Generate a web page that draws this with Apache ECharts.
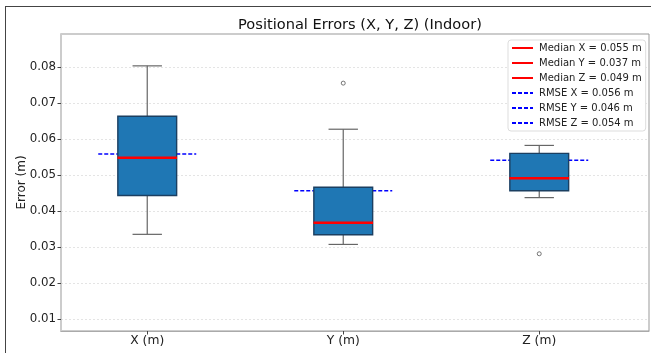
<!DOCTYPE html>
<html>
<head>
<meta charset="utf-8">
<script src="https://cdn.jsdelivr.net/npm/echarts@6/dist/echarts.min.js"></script>
<style>
  html, body { margin: 0; padding: 0; background: #fff; }
  #chart { position: absolute; left: 0; top: 0; width: 651px; height: 353px; }
  #frame { position: absolute; left: 5px; top: 6px; width: 660px; height: 360px;
           border-top: 1.5px solid #444; border-left: 1.5px solid #444; pointer-events: none; }
</style>
</head>
<body>
<div id="chart"></div>
<div id="frame"></div>
<script>
// ---- data ----
const categories = ['X (m)', 'Y (m)', 'Z (m)'];
const positions  = [1, 2, 3];
const whiskerLow = [0.0336, 0.0308, 0.0438];
const q1         = [0.0444, 0.0335, 0.0457];
const medians    = [0.0549, 0.0368, 0.0492];
const q3         = [0.0664, 0.0467, 0.0561];
const whiskerHigh= [0.0804, 0.0628, 0.0583];
const rmse       = [0.0559, 0.0457, 0.0542];
const outliers   = [[2, 0.0756], [3, 0.0282]];
const medianLabels = ['Median X = 0.055 m', 'Median Y = 0.037 m', 'Median Z = 0.049 m'];
const rmseLabels   = ['RMSE X = 0.056 m', 'RMSE Y = 0.046 m', 'RMSE Z = 0.054 m'];
const yTicks = [0.01, 0.02, 0.03, 0.04, 0.05, 0.06, 0.07, 0.08];

// ---- style constants ----
const BOX_HALF = 0.15, CAP_HALF = 0.075, RMSE_HALF = 0.25, MED_HALF = 0.152;
const FONT = 'DejaVu Sans';

const boxData = positions.map((p, i) => [p, whiskerLow[i], q1[i], medians[i], q3[i], whiskerHigh[i]]);

const series = [];
// RMSE lines (behind boxes)
rmse.forEach((v, i) => {
  series.push({
    name: rmseLabels[i], type: 'line', symbol: 'none', z: 1,
    data: [[positions[i] - RMSE_HALF, v], [positions[i] + RMSE_HALF, v]],
    lineStyle: { color: '#0000ff', width: 1.4, type: [4, 2] },
    itemStyle: { color: '#0000ff' }, silent: true
  });
});
// boxes
series.push({
  type: 'custom', z: 2, silent: true,
  data: boxData,
  encode: { x: 0, y: [1, 2, 3, 4, 5] },
  renderItem: function (params, api) {
    const x = api.value(0);
    const lo = api.coord([x, api.value(1)]);
    const b1 = api.coord([x - BOX_HALF, api.value(2)]);
    const b3 = api.coord([x + BOX_HALF, api.value(4)]);
    const hi = api.coord([x, api.value(5)]);
    const capL = api.coord([x - CAP_HALF, api.value(1)]);
    const capR = api.coord([x + CAP_HALF, api.value(1)]);
    const capL2 = api.coord([x - CAP_HALF, api.value(5)]);
    const capR2 = api.coord([x + CAP_HALF, api.value(5)]);
    const wStyle = { stroke: '#666', lineWidth: 1.2 };
    return {
      type: 'group',
      children: [
        { type: 'line', shape: { x1: lo[0], y1: lo[1], x2: lo[0], y2: b1[1] }, style: wStyle },
        { type: 'line', shape: { x1: hi[0], y1: hi[1], x2: hi[0], y2: b3[1] }, style: wStyle },
        { type: 'line', shape: { x1: capL[0], y1: capL[1], x2: capR[0], y2: capR[1] }, style: wStyle },
        { type: 'line', shape: { x1: capL2[0], y1: capL2[1], x2: capR2[0], y2: capR2[1] }, style: wStyle },
        { type: 'rect', shape: { x: b1[0], y: b3[1], width: b3[0] - b1[0], height: b1[1] - b3[1] },
          style: { fill: '#1f77b4', stroke: '#1b3f61', lineWidth: 1.4 } }
      ]
    };
  }
});
// outliers
series.push({
  type: 'scatter', z: 3, silent: true, data: outliers,
  symbol: 'circle', symbolSize: 4,
  itemStyle: { color: '#fff', borderColor: '#555', borderWidth: 1 }
});
// median lines (on top)
medians.forEach((v, i) => {
  series.push({
    name: medianLabels[i], type: 'line', symbol: 'none', z: 4,
    data: [[positions[i] - MED_HALF, v], [positions[i] + MED_HALF, v]],
    lineStyle: { color: '#ff0000', width: 2.5 },
    itemStyle: { color: '#ff0000' }, silent: true
  });
});

const chart = echarts.init(document.getElementById('chart'), null, { renderer: 'canvas' });
chart.setOption({
  animation: false,
  backgroundColor: '#fff',
  title: {
    text: 'Positional Errors (X, Y, Z) (Indoor)',
    left: 355, top: 13, textAlign: 'center',
    textStyle: { fontFamily: FONT, fontSize: 14.6, fontWeight: 'normal', color: '#111' }
  },
  grid: {
    left: 61, top: 34, right: 2, bottom: 22,
    show: true, borderColor: '#999', borderWidth: 1, backgroundColor: '#fff'
  },
  legend: {
    orient: 'vertical', left: 508, top: 40,
    data: medianLabels.concat(rmseLabels),
    itemWidth: 21, itemHeight: 10, itemGap: 5,
    padding: [3, 4, 3, 3],
    itemStyle: { opacity: 0 },
    backgroundColor: '#fff', borderColor: '#ddd', borderWidth: 1, borderRadius: 3,
    textStyle: { fontFamily: FONT, fontSize: 10, color: '#222', padding: [0, 0, 0, 1] },
    selectedMode: false
  },
  xAxis: {
    type: 'value', min: 0.56, max: 3.56,
    axisLine: { show: true, lineStyle: { color: '#aaa', width: 1 } },
    splitLine: { show: false },
    axisTick: { show: true, customValues: positions, length: 3.5, lineStyle: { color: '#444' } },
    axisLabel: {
      customValues: positions,
      formatter: function (v) { const i = positions.indexOf(Math.round(v)); return i >= 0 ? categories[i] : ''; },
      fontFamily: FONT, fontSize: 12.3, color: '#222', margin: 4
    }
  },
  yAxis: {
    type: 'value', min: 0.00675, max: 0.08925,
    name: 'Error (m)', nameLocation: 'middle', nameGap: 33, nameMoveOverlap: false,
    nameTextStyle: { fontFamily: FONT, fontSize: 12, color: '#222' },
    axisLine: { show: true, lineStyle: { color: '#ccc', width: 2 } },
    axisTick: { show: true, customValues: yTicks, length: 3.5, lineStyle: { color: '#444' } },
    axisLabel: {
      customValues: yTicks,
      formatter: function (v) { return v.toFixed(2); },
      fontFamily: FONT, fontSize: 11.8, color: '#222', margin: 5
    },
    splitLine: { show: true, lineStyle: { color: '#ddd', width: 0.8, type: [2, 2] } }
  },
  series: series
});
</script>
</body>
</html>
